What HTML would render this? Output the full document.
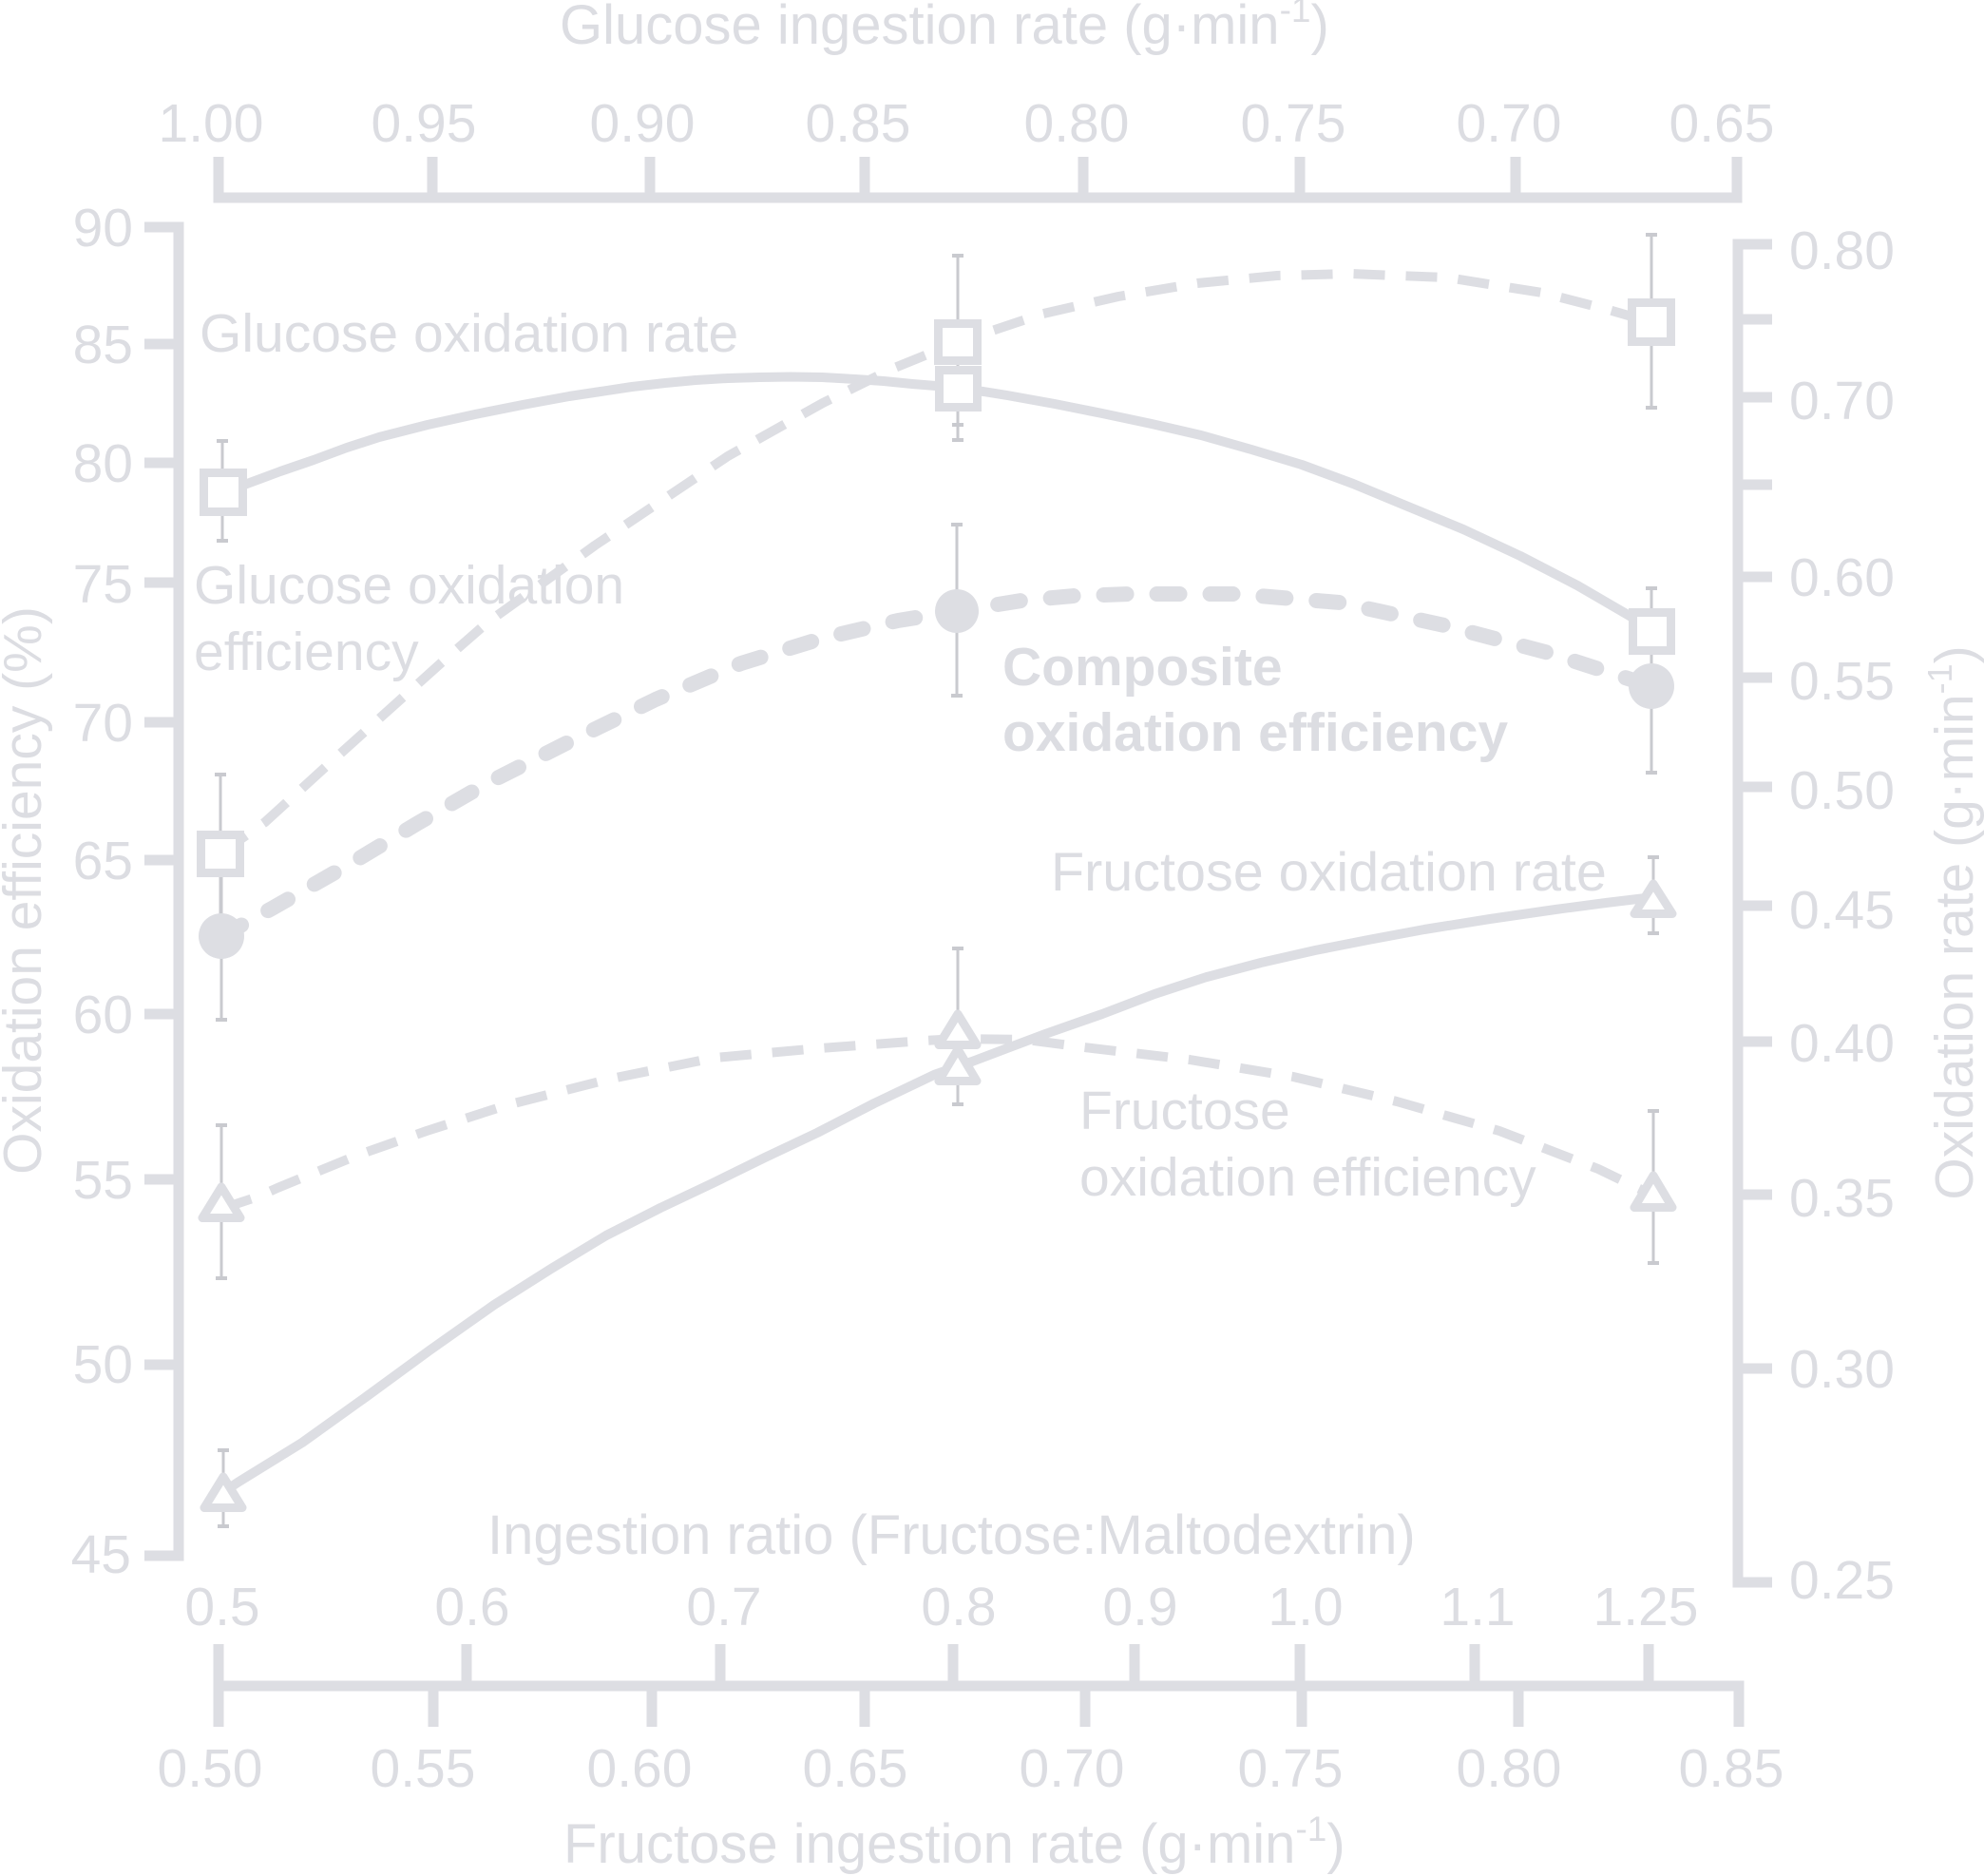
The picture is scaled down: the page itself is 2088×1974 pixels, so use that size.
<!DOCTYPE html>
<html>
<head>
<meta charset="utf-8">
<style>
  html, body { margin: 0; padding: 0; background: #ffffff; }
  svg { display: block; }
  text { font-family: "Liberation Sans", "DejaVu Sans", sans-serif; fill: #dcdde2; }
</style>
</head>
<body>
<svg width="2088" height="1974" viewBox="0 0 2088 1974" xmlns="http://www.w3.org/2000/svg">
  <rect x="0" y="0" width="2088" height="1974" fill="#ffffff"/>

  <!-- ================= AXES ================= -->
  <g stroke="#dddee3" fill="none" stroke-width="11" stroke-linejoin="miter" stroke-linecap="butt">
    <!-- left axis -->
    <path d="M152,239 H188 V1637 H152"/>
    <path d="M152,362 H188 M152,487 H188 M152,613 H188 M152,760 H188 M152,905 H188 M152,1067 H188 M152,1241 H188 M152,1436 H188"/>
    <!-- right axis -->
    <path d="M1865,257 H1829 V1665 H1865"/>
    <path d="M1829,336 H1865 M1829,418 H1865 M1829,510 H1865 M1829,607 H1865 M1829,713 H1865 M1829,828 H1865 M1829,953 H1865 M1829,1096 H1865 M1829,1257 H1865 M1829,1440 H1865"/>
    <!-- top axis -->
    <path d="M230,165 V208 H1828 V165"/>
    <path d="M455,165 V208 M684,165 V208 M910,165 V208 M1140,165 V208 M1368,165 V208 M1595,165 V208"/>
    <!-- bottom axis -->
    <path d="M230,1730 V1817 M225,1774 H1830 V1817"/>
    <path d="M491,1730 V1774 M758,1730 V1774 M1003,1730 V1774 M1194,1730 V1774 M1368,1730 V1774 M1552,1730 V1774 M1735,1730 V1774"/>
    <path d="M456,1774 V1817 M686,1774 V1817 M910,1774 V1817 M1142,1774 V1817 M1370,1774 V1817 M1598,1774 V1817"/>
  </g>

  <!-- ================= AXIS TEXT ================= -->
  <!-- top title -->
  <text x="589" y="46" font-size="58">Glucose ingestion rate (g·min<tspan font-size="37" dy="-23">-1</tspan><tspan dy="23">)</tspan></text>
  <!-- top tick labels -->
  <g font-size="57" text-anchor="middle">
    <text x="222" y="149">1.00</text>
    <text x="446" y="149">0.95</text>
    <text x="676" y="149">0.90</text>
    <text x="903" y="149">0.85</text>
    <text x="1133" y="149">0.80</text>
    <text x="1361" y="149">0.75</text>
    <text x="1588" y="149">0.70</text>
    <text x="1812" y="149">0.65</text>
  </g>
  <!-- left tick labels -->
  <g font-size="57" text-anchor="end">
    <text x="140" y="259">90</text>
    <text x="140" y="382">85</text>
    <text x="140" y="507">80</text>
    <text x="140" y="634">75</text>
    <text x="140" y="780">70</text>
    <text x="140" y="925">65</text>
    <text x="140" y="1087">60</text>
    <text x="140" y="1261">55</text>
    <text x="140" y="1455">50</text>
    <text x="138" y="1655">45</text>
  </g>
  <!-- right tick labels -->
  <g font-size="57" text-anchor="start">
    <text x="1883" y="283">0.80</text>
    <text x="1883" y="441">0.70</text>
    <text x="1883" y="627">0.60</text>
    <text x="1883" y="736">0.55</text>
    <text x="1883" y="851">0.50</text>
    <text x="1883" y="977">0.45</text>
    <text x="1883" y="1117">0.40</text>
    <text x="1883" y="1280">0.35</text>
    <text x="1883" y="1460">0.30</text>
    <text x="1883" y="1682">0.25</text>
  </g>
  <!-- rotated axis titles -->
  <text transform="translate(43,937) rotate(-90)" font-size="57" text-anchor="middle">Oxidation efficiency (%)</text>
  <text transform="translate(2076,971) rotate(-90)" font-size="57" text-anchor="middle">Oxidation rate (g·min<tspan font-size="36" dy="-22">-1</tspan><tspan dy="22">)</tspan></text>

  <!-- bottom ratio axis -->
  <text x="513" y="1635" font-size="58">Ingestion ratio (Fructose:Maltodextrin)</text>
  <g font-size="57" text-anchor="middle">
    <text x="234" y="1710">0.5</text>
    <text x="497" y="1710">0.6</text>
    <text x="762" y="1710">0.7</text>
    <text x="1009" y="1710">0.8</text>
    <text x="1200" y="1710">0.9</text>
    <text x="1374" y="1710">1.0</text>
    <text x="1555" y="1710">1.1</text>
    <text x="1732" y="1710">1.25</text>
  </g>
  <g font-size="57" text-anchor="middle">
    <text x="221" y="1880">0.50</text>
    <text x="445" y="1880">0.55</text>
    <text x="673" y="1880">0.60</text>
    <text x="900" y="1880">0.65</text>
    <text x="1128" y="1880">0.70</text>
    <text x="1358" y="1880">0.75</text>
    <text x="1588" y="1880">0.80</text>
    <text x="1822" y="1880">0.85</text>
  </g>
  <text x="593" y="1960" font-size="58">Fructose ingestion rate (g·min<tspan font-size="37" dy="-23">-1</tspan><tspan dy="23">)</tspan></text>

  <!-- ================= ANNOTATIONS ================= -->
  <g font-size="57">
    <text x="210" y="370">Glucose oxidation rate</text>
    <text x="204" y="635">Glucose oxidation</text>
    <text x="204" y="705">efficiency</text>
    <text x="1106" y="937" font-size="57.5">Fructose oxidation rate</text>
    <text x="1136" y="1188">Fructose</text>
    <text x="1136" y="1258">oxidation efficiency</text>
  </g>
  <g font-size="57" font-weight="bold">
    <text x="1055" y="721">Composite</text>
    <text x="1055" y="790">oxidation efficiency</text>
  </g>

  <!-- ================= CURVES ================= -->
  <g fill="none" stroke="#dddee3" stroke-linejoin="round">
    <!-- Glucose oxidation rate (solid) -->
    <polyline stroke-width="10" points="235,517 260,509 295,496 330,484 365,471 399,460 450,447 500,436 550,426 599,417 632,412 665,407 700,403 732,400 766,398 800,397 832,396.5 865,397 900,399 930,401 960,404 985,406 1008,409 1035,412 1060,416 1110,425 1160,435 1212,446 1264,458 1317,473 1370,489 1424,509 1477,531 1540,557 1600,585 1660,616 1715,648 1738,664"/>
    <!-- Glucose oxidation efficiency (dashed) -->
    <polyline stroke-width="10" stroke-dasharray="33 22" points="232,898 279,865 347,803 466,696 513,655 626,574 766,480 866,424 939,388 1008,360 1098,330 1177,312 1260,298 1344,290 1420,288 1523,292 1623,308 1693,326 1738,339"/>
    <!-- Composite oxidation efficiency (thick dashed) -->
    <polyline stroke-width="16" stroke-linecap="round" stroke-dasharray="24 32" points="233,985 286,956 370,908 440,866 513,824 600,780 690,736 780,698 864,672 945,653 1007,643 1075,632 1130,627 1190,625 1300,625 1410,634 1520,658 1630,687 1738,722"/>
    <!-- Fructose oxidation rate (solid) -->
    <polyline stroke-width="10" points="235,1570 250,1560 318,1518 385,1470 452,1421 520,1373 580,1335 638,1300 695,1271 750,1245 805,1218 860,1192 920,1161 983,1131 1023,1117 1060,1103 1100,1088 1160,1067 1215,1046 1270,1028 1327,1013 1384,1000 1440,989 1499,978 1568,967 1637,957 1690,950 1740,944"/>
    <!-- Fructose oxidation efficiency (dashed) -->
    <polyline stroke-width="10" stroke-dasharray="33 22" points="233,1272 272,1259 292,1250 375,1216 449,1190 533,1163 643,1135 752,1113 863,1103 973,1095 1008,1093 1080,1094 1141,1102 1252,1115 1361,1133 1470,1159 1578,1190 1682,1230 1740,1258"/>
  </g>

  <!-- ================= ERROR BARS ================= -->
  <g stroke="#c9cacf" fill="none">
    <g stroke-width="3">
      <path d="M234,464 V569 M1008,357 V463 M1738,619 V709"/>
      <path d="M232,815 V981 M1008,269 V447 M1738,247 V429"/>
      <path d="M233,897 V1073 M1007,552 V732 M1738,631 V813"/>
      <path d="M235,1526 V1606 M1008,1080 V1162 M1740,902 V982"/>
      <path d="M233,1184 V1345 M1008,998 V1162 M1740,1169 V1329"/>
    </g>
    <g stroke-width="4">
      <path d="M228,464 H240 M228,569 H240 M1002,463 H1014 M1732,619 H1744"/>
      <path d="M226,815 H238 M1002,269 H1014 M1002,447 H1014 M1732,247 H1744 M1732,429 H1744"/>
      <path d="M227,1073 H239 M1001,552 H1013 M1001,732 H1013 M1732,813 H1744"/>
      <path d="M229,1526 H241 M229,1606 H241 M1002,1162 H1014 M1734,902 H1746 M1734,982 H1746"/>
      <path d="M227,1184 H239 M227,1345 H239 M1002,998 H1014 M1734,1169 H1746 M1734,1329 H1746"/>
    </g>
  </g>

  <!-- ================= MARKERS ================= -->
  <g stroke="#dddee3" stroke-width="9" fill="#ffffff" stroke-linejoin="miter">
    <rect x="214.5" y="497.5" width="41" height="41"/>
    <rect x="988.5" y="389.5" width="40" height="39"/>
    <rect x="1718.5" y="644.5" width="40" height="40"/>
    <rect x="211.5" y="878.5" width="41" height="40"/>
    <rect x="987.5" y="340.5" width="41" height="39"/>
    <rect x="1717.5" y="318.5" width="41" height="41"/>
  </g>
  <g fill="#dddee3">
    <circle cx="233" cy="985" r="24"/>
    <circle cx="1007" cy="643" r="23"/>
    <circle cx="1738" cy="722" r="24"/>
  </g>
  <g stroke="#dddee3" stroke-width="9" fill="#ffffff" stroke-linejoin="round">
    <path d="M233,1249 L213,1281.5 L253,1281.5 Z"/>
    <path d="M1008,1067 L988,1099.5 L1028,1099.5 Z"/>
    <path d="M1740,1237 L1720,1270.5 L1760,1270.5 Z"/>
    <path d="M235,1554 L215,1586.5 L255,1586.5 Z"/>
    <path d="M1008,1104 L988,1137.5 L1028,1137.5 Z"/>
    <path d="M1740,930 L1720,961.5 L1760,961.5 Z"/>
  </g>
</svg>
</body>
</html>
